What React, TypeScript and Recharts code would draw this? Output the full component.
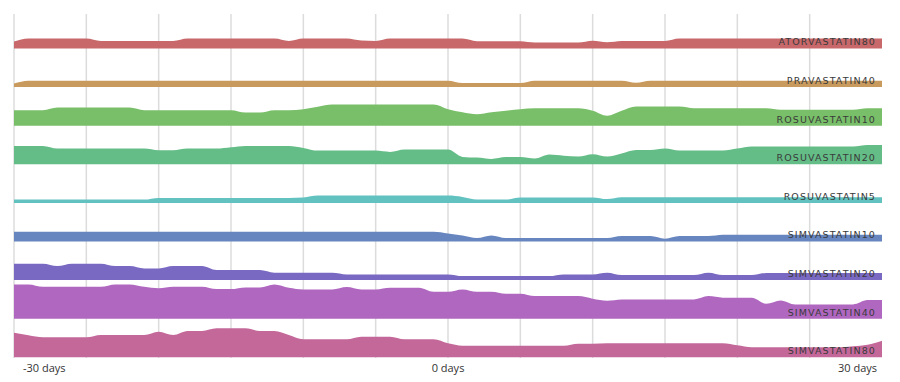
import { ComposedChart, Area, XAxis, YAxis, CartesianGrid, ReferenceLine } from 'recharts'

const days = [
  -30, -29, -28, -27, -26, -25, -24, -23, -22, -21, -20, -19, -18, -17, -16, -15, -14, -13, -12, -11, -10,
  -9, -8, -7, -6, -5, -4, -3, -2, -1, 0, 1, 2, 3, 4, 5, 6, 7, 8, 9, 10, 11, 12, 13, 14, 15, 16, 17, 18, 19,
  20, 21, 22, 23, 24, 25, 26, 27, 28, 29, 30,
]

const tickDays = [-30, -25, -20, -15, -10, -5, 0, 5, 10, 15, 20, 25, 30]
const gridDays = [-30, -25, -20, -15, -10, -5, 0, 5, 10, 15, 20, 25]
const labelDays = [-30, 0, 30]

const atorvastatin80 = [
  7, 10, 10, 10, 10, 10, 7.6, 7.6, 7.6, 7.6, 7.6, 7.6, 10, 10, 10, 10, 10, 10, 10, 7.6, 10, 10, 10, 10, 8,
  7.6, 10, 10, 10, 10, 10, 10, 7.3, 7.3, 7.3, 7.3, 6, 6, 6, 6, 7.8, 6.3, 7.6, 7.6, 7.6, 7.6, 10, 10, 10, 10,
  10, 10, 10, 10, 10, 10, 10, 10, 10, 10, 10,
]
const pravastatin40 = [
  3.5, 6.3, 6.3, 6.3, 6.3, 6.3, 6.3, 6.3, 6.3, 6.3, 6.3, 6.3, 6.3, 6.3, 6.3, 6.3, 6.3, 6.3, 6.3, 6.3, 6.3,
  6.3, 6.3, 6.3, 6.3, 6.3, 6.3, 6.3, 6.3, 6.3, 6.3, 4, 4, 4, 4, 4, 6.3, 6.3, 6.3, 6.3, 6.3, 6.3, 6.3, 4.3,
  6.3, 6.3, 6.3, 6.3, 6.3, 6.3, 6.3, 6.3, 6.3, 6.3, 6.3, 6.3, 6.3, 6.3, 6.3, 6.3, 6.3,
]
const rosuvastatin10 = [
  15.5, 15.5, 15.5, 18.2, 18.2, 18.2, 18.2, 18.2, 18.2, 15.5, 15.5, 15.5, 15.5, 15.5, 15.5, 15.5, 13.2,
  13.2, 15.5, 15.5, 16.5, 19, 21.2, 21.2, 21.2, 21.2, 21.2, 21.2, 21.2, 21.2, 16.5, 13.5, 11.5, 13.5, 15,
  16.5, 17.5, 17.5, 17.5, 17.5, 15, 10, 15, 19.2, 19.2, 19.2, 19.2, 17.5, 17.5, 17.5, 17.5, 17.5, 17.5, 16,
  16, 16, 16, 16, 16, 17.5, 17.5,
]
const rosuvastatin20 = [
  18.4, 18.4, 18.4, 15.7, 15.7, 15.7, 15.7, 15.7, 15.7, 15.7, 14, 14, 15.7, 15.7, 15.7, 17, 18.4, 18.4,
  18.4, 18.4, 16.4, 13.7, 13.7, 13.7, 13.7, 13.7, 12.4, 14.7, 14.7, 14.7, 14.7, 7.4, 6.7, 5.4, 7.2, 7.2,
  5.7, 9.7, 8.5, 7.7, 10, 7.7, 10.7, 14.2, 14.2, 15.7, 13.7, 13.7, 13.7, 13.7, 15.7, 17.7, 17.7, 17.7,
  17.7, 17.7, 17.7, 17.7, 17.7, 19.2, 19.2,
]
const rosuvastatin5 = [
  3.3, 3.3, 3.3, 3.3, 3.3, 3.3, 3.3, 3.3, 3.3, 3.3, 5, 5, 5, 5, 5, 5, 5, 5, 5, 5, 5.5, 7.3, 7.3, 7.3, 7.3,
  7.3, 7.3, 7.3, 7.3, 7.3, 7.3, 6, 3.3, 3.3, 3.3, 5.5, 5.5, 5.5, 5.5, 5.5, 5.5, 3.8, 5.7, 5.7, 5.7, 5.7,
  5.7, 5.7, 5.7, 5.7, 5.7, 5.7, 5.7, 5.7, 5.7, 5.7, 5.7, 5.7, 5.7, 5.7, 5.7,
]
const simvastatin10 = [
  9.7, 9.7, 9.7, 9.7, 9.7, 9.7, 9.7, 9.7, 9.7, 9.7, 9.7, 9.7, 9.7, 9.7, 9.7, 9.7, 9.7, 9.7, 9.7, 9.7, 9.7,
  9.7, 9.7, 9.7, 9.7, 9.7, 9.7, 9.7, 9.7, 9.7, 8, 6, 3.4, 6, 3.4, 3.4, 3.4, 3.4, 3.4, 3.4, 3.4, 3.4, 5.4,
  5.4, 5.4, 2.7, 5.4, 5.4, 5.4, 6.7, 6.7, 6.7, 6.7, 6.7, 6.7, 6.7, 6.7, 6.7, 6.7, 6.7, 6.7,
]
const simvastatin20 = [
  16.4, 16.4, 16.4, 14, 16.4, 16.4, 16.4, 14, 14, 11.7, 11.7, 14, 14, 14, 10, 10, 10, 10, 7.4, 7.4, 7.4,
  7.4, 7.4, 5.7, 5.7, 5.7, 5.7, 5.7, 5.7, 5.7, 5.7, 4, 4, 4, 4, 4, 4, 4, 5.7, 5.7, 5.7, 7.4, 5, 5, 5, 5,
  5, 5, 7.4, 5, 5, 5, 7.2, 7.2, 7.2, 7.2, 7.2, 7.2, 7.2, 7.2, 7.2,
]
const simvastatin40 = [
  34.3, 34.3, 32, 32, 32, 32, 32, 34.3, 34.3, 32, 30.5, 32, 32, 32, 29.6, 29.6, 31.3, 31.3, 34.3, 31,
  29.3, 29.3, 29.3, 31.6, 29.3, 29.3, 31, 31, 31, 27, 27, 29.3, 27, 27, 25, 25, 22.6, 22.6, 22.6, 22.6,
  20, 18, 19.3, 19.3, 19.3, 19.3, 19.3, 19.3, 22.6, 21, 21, 21, 15, 18.3, 14.3, 14.3, 14.3, 14.3, 14.3,
  18.6, 18.6,
]
const simvastatin80 = [
  24.6, 22, 20, 20, 20, 20, 22.3, 22.3, 22.3, 22.3, 25.6, 22.3, 26.3, 26.3, 29, 29, 29, 26.3, 26.3, 22.3,
  18, 18, 18, 18, 20.6, 20.6, 20.6, 18, 18, 18, 14, 11.6, 11.6, 11.6, 11.6, 11.6, 11.6, 11.6, 11.6, 13.6,
  13.6, 14, 14, 14, 14, 14, 14, 14, 14, 14, 12, 10, 10, 10, 10, 10, 10, 10, 11, 12.5, 16.6,
]

const rows = [
  { name: 'ATORVASTATIN80', color: '#c8686a', values: atorvastatin80 },
  { name: 'PRAVASTATIN40', color: '#c99a5e', values: pravastatin40 },
  { name: 'ROSUVASTATIN10', color: '#79bf69', values: rosuvastatin10 },
  { name: 'ROSUVASTATIN20', color: '#64bd86', values: rosuvastatin20 },
  { name: 'ROSUVASTATIN5', color: '#62c2c0', values: rosuvastatin5 },
  { name: 'SIMVASTATIN10', color: '#6786c0', values: simvastatin10 },
  { name: 'SIMVASTATIN20', color: '#7a69c2', values: simvastatin20 },
  { name: 'SIMVASTATIN40', color: '#b067c0', values: simvastatin40 },
  { name: 'SIMVASTATIN80', color: '#c4689a', values: simvastatin80 },
]

// each drug gets its own lane, stacked top to bottom
const ROW_STEP = 38.6
const ROW_OFFSET = 0.7
const baseOf = (k: number) => (rows.length - 1 - k) * ROW_STEP + ROW_OFFSET

const data = days.map((day, i) => {
  const point: any = { day }
  rows.forEach((r, k) => {
    const base = baseOf(k)
    point[r.name] = [base, base + r.values[i]]
  })
  return point
})

function DayTick(props: any) {
  const { x, y, payload } = props
  const v = payload.value
  if (!labelDays.includes(v)) return null
  let anchor = 'middle'
  let dx = 0
  if (v === -30) {
    anchor = 'start'
    dx = 9
  } else if (v === 30) {
    anchor = 'end'
    dx = -5
  }
  return (
    <text
      x={x + dx}
      y={y}
      dy={6}
      textAnchor={anchor}
      fill="#333"
      fontSize={11}
      fontFamily="'Open Sans', sans-serif"
    >
      {v} days
    </text>
  )
}

function rowLabel(name: string) {
  return (props: any) => {
    const vb = props.viewBox
    if (!vb) return null
    return (
      <text
        x={vb.x + vb.width - 6}
        y={vb.y - 3.2}
        textAnchor="end"
        fill="#3a3a3a"
        fontSize={9.5}
        letterSpacing={1.1}
        fontFamily="'DejaVu Sans', sans-serif"
      >
        {name}
      </text>
    )
  }
}

export default function App() {
  return (
    <div style={{ position: 'absolute', left: 0, top: 0, width: 900, height: 382, background: '#fff' }}>
      <ComposedChart width={900} height={382} data={data} margin={{ top: 14, right: 18, left: 14, bottom: 0 }}>
        <CartesianGrid horizontal={false} verticalValues={gridDays} stroke="#dcdcdc" strokeWidth={1.5} />
        <XAxis
          dataKey="day"
          type="number"
          domain={[-30, 30]}
          ticks={tickDays}
          interval={0}
          axisLine={false}
          tickLine={false}
          height={24}
          tick={<DayTick />}
        />
        <YAxis hide domain={[0, 344]} allowDataOverflow />
        {rows.map((r) => (
          <Area
            key={r.name}
            dataKey={r.name}
            type="monotone"
            stroke="none"
            fill={r.color}
            fillOpacity={1}
            isAnimationActive={false}
          />
        ))}
        {rows.map((r, k) => (
          <ReferenceLine key={'l' + r.name} y={baseOf(k)} stroke="none" label={rowLabel(r.name)} />
        ))}
      </ComposedChart>
    </div>
  )
}
